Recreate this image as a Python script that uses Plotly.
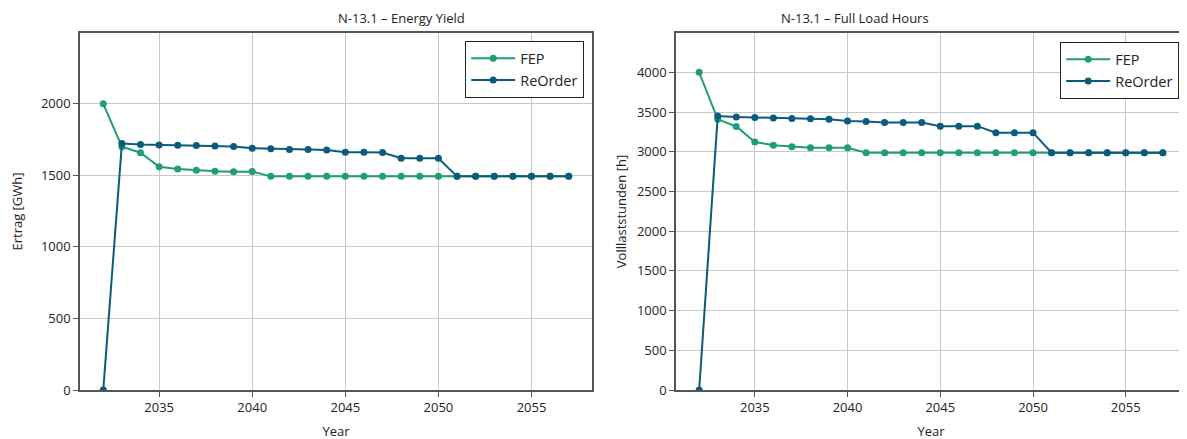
import plotly.graph_objects as go

# ------------------------------------------------------------------
# data
# ------------------------------------------------------------------
years = list(range(2032, 2058))

yield_fep = [2000, 1700, 1658, 1560, 1544, 1535, 1528, 1526, 1527,
             1493, 1493, 1493, 1493, 1493, 1493, 1493, 1493, 1493, 1493,
             1493, 1493, 1493, 1493, 1493, 1493, 1493]
yield_reorder = [0, 1722, 1715, 1712, 1710, 1708, 1705, 1702, 1690,
                 1686, 1680, 1680, 1678, 1662, 1662, 1660, 1620, 1620, 1620,
                 1493, 1493, 1493, 1493, 1493, 1493, 1493]

flh_fep = [4000, 3408, 3318, 3123, 3082, 3062, 3050, 3050, 3050,
           2988, 2988, 2988, 2988, 2988, 2988, 2988, 2988, 2988, 2988,
           2988, 2988, 2988, 2988, 2988, 2988, 2988]
flh_reorder = [0, 3450, 3438, 3430, 3425, 3420, 3415, 3408, 3388,
               3380, 3368, 3368, 3368, 3322, 3322, 3322, 3240, 3240, 3240,
               2988, 2988, 2988, 2988, 2988, 2988, 2988]

yield_ticks = [0, 500, 1000, 1500, 2000]
flh_ticks = [0, 500, 1000, 1500, 2000, 2500, 3000, 3500, 4000]
year_ticks = [2035, 2040, 2045, 2050, 2055]

GREEN = "#1f9e76"
BLUE = "#0d5b7c"
FONT = "Open Sans, Noto Sans, sans-serif"
W, H = 1187, 439
OFF = 8  # the page body adds an 8px margin around the figure

fig = go.Figure()


def add_series(x, y, name, color, xa, ya, legend):
    fig.add_trace(go.Scatter(
        x=x, y=y, name=name, mode="lines+markers",
        line=dict(color=color, width=2),
        marker=dict(color=color, size=7),
        xaxis=xa, yaxis=ya, legend=legend,
    ))


add_series(years, yield_fep, "FEP", GREEN, "x", "y", "legend")
add_series(years, yield_reorder, "ReOrder", BLUE, "x", "y", "legend")
add_series(years, flh_fep, "FEP", GREEN, "x2", "y2", "legend2")
add_series(years, flh_reorder, "ReOrder", BLUE, "x2", "y2", "legend2")


def px_x(p):
    return (p - OFF) / W


def px_y(p):
    return 1 - (p - OFF) / H


# plot areas in page pixels
left_px = (80, 592)
right_px = (676, 1186)
top_px, bot_px = 33, 390
ydom = [px_y(bot_px), px_y(top_px)]

txt = dict(size=13, color="#222222", family=FONT)

axis_common = dict(
    showline=True, mirror=True, linecolor="#555555", linewidth=1.5,
    showgrid=True, gridcolor="#c8c8c8", gridwidth=1,
    ticks="outside", ticklen=5, tickcolor="#555555",
    tickfont=txt, zeroline=False, automargin=False,
)

xaxis_common = dict(axis_common, range=[2030.75, 2058.25], tickvals=year_ticks,
                    title=dict(text="Year", font=txt, standoff=12))

legend_common = dict(
    bgcolor="white", bordercolor="#222222", borderwidth=1.2,
    font=dict(size=14.5, color="#222222", family=FONT),
    xanchor="right", yanchor="top", tracegroupgap=0, itemwidth=44,
)

fig.update_layout(
    width=W, height=H,
    margin=dict(l=0, r=0, t=0, b=0),
    paper_bgcolor="white", plot_bgcolor="white",
    font=dict(family=FONT, color="#222222"),
    showlegend=True,
    xaxis=dict(xaxis_common, domain=[px_x(left_px[0]), px_x(left_px[1])], anchor="y"),
    yaxis=dict(axis_common, domain=ydom, range=[0, 2495], tickvals=yield_ticks,
               anchor="x", title=dict(text="Ertrag [GWh]", font=txt, standoff=17)),
    xaxis2=dict(xaxis_common, domain=[px_x(right_px[0]), px_x(right_px[1])], anchor="y2"),
    yaxis2=dict(axis_common, domain=ydom, range=[0, 4495], tickvals=flh_ticks,
                anchor="x2", title=dict(text="Volllaststunden [h]", font=txt, standoff=7)),
    legend=dict(legend_common, x=px_x(584), y=px_y(41)),
    legend2=dict(legend_common, x=px_x(1179), y=px_y(42)),
    annotations=[
        dict(text="N-13.1 – Energy Yield", x=px_x((left_px[0] + left_px[1]) / 2), y=px_y(18),
             xref="paper", yref="paper", yanchor="middle", showarrow=False, font=txt),
        dict(text="N-13.1 – Full Load Hours", x=px_x((right_px[0] + right_px[1]) / 2), y=px_y(18),
             xref="paper", yref="paper", yanchor="middle", showarrow=False, font=txt),
    ],
)

fig.write_html("out.html")
